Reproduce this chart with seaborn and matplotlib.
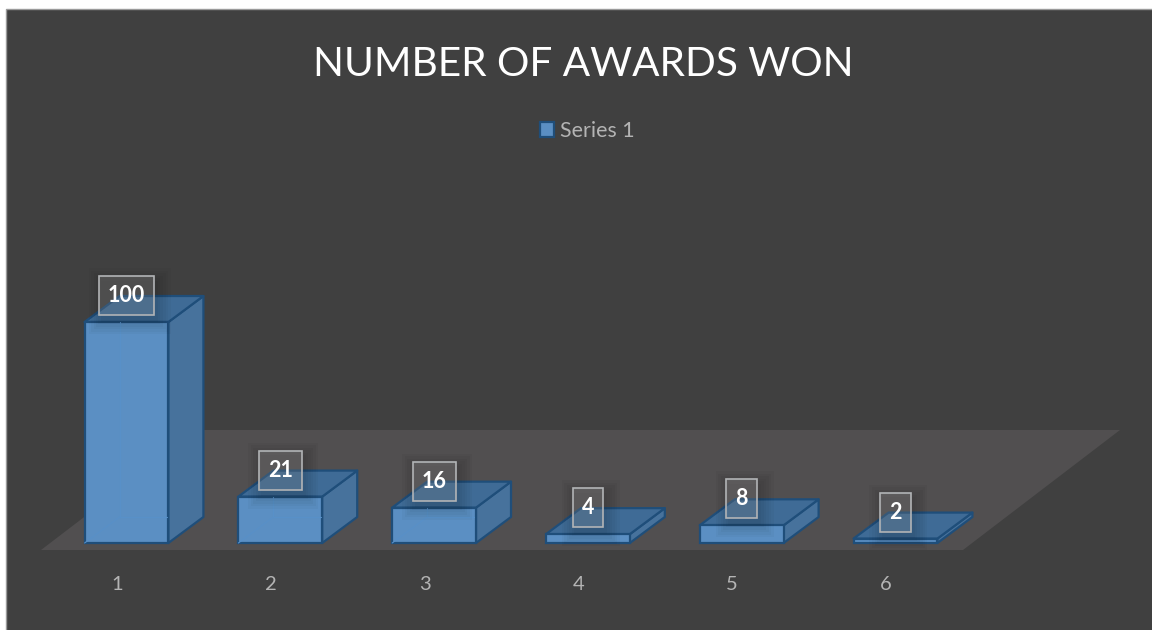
import pandas as pd
import seaborn as sns
import matplotlib.pyplot as plt
from matplotlib.patches import Polygon, Rectangle

categories = ['1', '2', '3', '4', '5', '6']
awards = [100, 21, 16, 4, 8, 2]
series_name = 'Series 1'
title = 'NUMBER OF AWARDS WON'

W, H = 1152, 630
BG = '#404040'
FLOOR = '#514F50'
FRONT = '#5B8FC3'
TOP = '#3F6B96'
SIDE = '#47729C'
EDGE = '#1F4E7A'
INNER = '#5890C8'
TXT = '#B4B4B4'

sns.set_theme(style='white')
plt.rcParams['font.family'] = ['Lato', 'DejaVu Sans']

df = pd.DataFrame({'category': categories, 'awards': awards})

fig = plt.figure(figsize=(W / 100, H / 100), dpi=100, facecolor='white')
# fondo del grafico, con el borde gris arriba y a la izquierda
fig.add_artist(Rectangle((6 / W, -0.01), 1.01, 1.01 - 9 / H, transform=fig.transFigure,
                         facecolor=BG, edgecolor='#9A9A9A', linewidth=1, zorder=-1))

# ejes de la pared frontal: y=0 en el pixel 543, suelo en 550
ax = fig.add_axes([7 / W, (H - 550) / H, (W - 7) / W, 540 / H])
ax.patch.set_alpha(0)
px_x = 153.8
px_y = 2.21

bar_w = 0.545
dx = 35 / px_x
dy = 26 / px_y

# suelo
fx0, fx1 = (41 - 126.5) / px_x, (963 - 126.5) / px_x
fdx, fdy = 157 / px_x, 120 / px_y
fy = -7 / px_y
ax.add_patch(Polygon([(fx0, fy), (fx1, fy), (fx1 + fdx, fy + fdy), (fx0 + fdx, fy + fdy)],
                     facecolor=FLOOR, edgecolor='none', zorder=0))

sns.barplot(data=df, x='category', y='awards', color=FRONT, saturation=1, width=bar_w,
            edgecolor=EDGE, linewidth=1.6, label=series_name, ax=ax, zorder=3)
ax.set_xlim((7 - 126.5) / px_x, (W - 126.5) / px_x)
ax.set_ylim(-7 / px_y, 533 / px_y)

# caras lateral y superior de cada barra
for i, v in enumerate(awards):
    l, r = i - bar_w / 2, i + bar_w / 2
    ax.add_patch(Polygon([(r, 0), (r + dx, dy), (r + dx, v + dy), (r, v)],
                         facecolor=SIDE, edgecolor=EDGE, linewidth=1.6, joinstyle='round', zorder=2))
    ax.add_patch(Polygon([(l, v), (r, v), (r + dx, v + dy), (l + dx, v + dy)],
                         facecolor=TOP, edgecolor=EDGE, linewidth=1.6, joinstyle='round', zorder=2))
    # aristas traseras que se transparentan
    if v > dy:
        ax.plot([l, l + dx], [0, dy], color=INNER, lw=0.8, zorder=4)
        ax.plot([l + dx, l + dx], [dy, v], color=INNER, lw=0.8, zorder=4)
        ax.plot([l + dx, r - 0.01], [dy, dy], color=INNER, lw=0.8, zorder=4)
    # sombra difusa de la etiqueta, con rectangulos translucidos
    box_w = (12 * len(str(v)) + 18) / px_x
    box_h = 38 / px_y
    for k in range(6):
        grow_x, grow_y = (14 - k * 2.5) / px_x, (14 - k * 2.5) / px_y
        ax.add_patch(Rectangle((i + 3 / px_x - box_w / 2 - grow_x, v + 21 / px_y - box_h / 2 - grow_y),
                               box_w + 2 * grow_x, box_h + 2 * grow_y,
                               facecolor=(0, 0, 0, 0.028), edgecolor='none', zorder=5))
    # etiqueta
    ax.text(i, v + 26.5 / px_y, str(v), ha='center', va='center', color='white',
            fontsize=15.5, fontweight='bold', zorder=6,
            bbox=dict(boxstyle='square,pad=0.42', facecolor=(1, 1, 1, 0.13),
                      edgecolor='#B2B4B6', linewidth=1.2))

ax.set_xticks([i - 9.5 / px_x for i in range(len(categories))])
ax.set_xticklabels(categories, color=TXT, fontsize=14.5)
ax.tick_params(axis='x', length=0, pad=19)
ax.set_yticks([])
ax.set_xlabel('')
ax.set_ylabel('')
sns.despine(ax=ax, left=True, bottom=True)

fig.text(583 / W, 1 - 64.5 / H, title, ha='center', va='center', color='white', fontsize=29.2)

leg = ax.legend(loc='center', bbox_to_anchor=(587.5 / W, 1 - 131 / H), bbox_transform=fig.transFigure,
                frameon=False, fontsize=15.4, labelcolor=TXT, handlelength=0.66, handleheight=0.66,
                handletextpad=0.3, borderpad=0)

fig.savefig('out.png', dpi=100, facecolor=fig.get_facecolor())
